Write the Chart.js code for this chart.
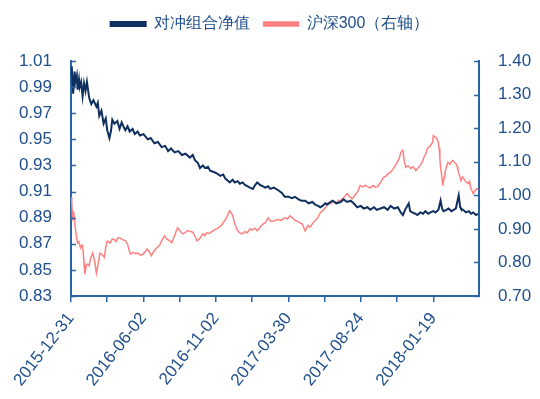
<!DOCTYPE html>
<html>
<head>
    <meta charset="utf-8">
    <title>对冲组合净值 vs 沪深300</title>
    <style>
        html, body { margin: 0; padding: 0; background: #ffffff; }
        #wrap { width: 540px; height: 399px; }
    </style>
</head>
<body>
    <div id="wrap"><canvas id="myChart" width="540" height="399"></canvas></div>
    <script src="https://cdn.jsdelivr.net/npm/chart.js"></script>
    <script>
        // x ticks: one date label every 100 trading days
        const dateLabels = ['2015-12-31', '2016-06-02', '2016-11-02', '2017-03-30', '2017-08-24', '2018-01-19'];
        const leftTicks = [0.83, 0.85, 0.87, 0.89, 0.91, 0.93, 0.95, 0.97, 0.99, 1.01];
        const rightTicks = [0.70, 0.80, 0.90, 1.00, 1.10, 1.20, 1.30, 1.40];

        // 对冲组合净值 (left axis), trading day index -> value
        const hedgeDays = [0,1,2,3,5,6,8,9,11,12,14,16,18,20,22,25,28,31,35,37,39,42,45,48,50,53,55,57,60,64,67,70,73,75,78,81,85,88,92,95,100,106,110,115,120,125,130,134,138,143,148,153,158,164,168,171,175,178,182,185,189,192,197,201,206,210,213,217,219,223,226,230,233,237,240,244,247,251,254,257,261,265,268,272,275,280,286,291,295,300,305,309,314,318,323,328,333,337,341,344,347,351,354,358,361,366,372,376,381,386,390,395,400,404,409,413,418,422,427,432,437,441,446,451,455,458,461,466,468,471,475,478,482,486,489,493,496,500,503,507,510,512,514,518,521,525,528,531,535,537,538,541,545,549,552,555,559,562];
        const hedgeValues = [1.000,1.006,0.996,0.985,1.002,0.994,0.999,0.988,0.996,0.990,0.994,0.983,0.993,0.987,0.994,0.982,0.977,0.980,0.975,0.978,0.968,0.972,0.962,0.966,0.957,0.951,0.956,0.965,0.962,0.964,0.958,0.963,0.959,0.957,0.960,0.956,0.958,0.954,0.956,0.953,0.954,0.950,0.951,0.947,0.948,0.944,0.945,0.941,0.943,0.940,0.941,0.938,0.939,0.936,0.938,0.934,0.932,0.928,0.930,0.928,0.929,0.926,0.925,0.924,0.922,0.923,0.920,0.918,0.917,0.919,0.917,0.918,0.916,0.917,0.915,0.914,0.913,0.912,0.915,0.917,0.915,0.914,0.913,0.914,0.912,0.913,0.911,0.909,0.906,0.906,0.905,0.906,0.904,0.903,0.903,0.901,0.902,0.900,0.899,0.898,0.899,0.901,0.900,0.902,0.903,0.901,0.902,0.904,0.902,0.903,0.901,0.898,0.899,0.897,0.898,0.896,0.898,0.896,0.897,0.898,0.896,0.899,0.897,0.898,0.894,0.892,0.896,0.901,0.895,0.894,0.893,0.892,0.894,0.893,0.895,0.893,0.894,0.895,0.894,0.896,0.903,0.897,0.895,0.896,0.897,0.895,0.896,0.897,0.907,0.898,0.897,0.896,0.894,0.895,0.893,0.894,0.892,0.893];

        // 沪深300 (right axis), trading day index -> value
        const hs300Days = [0,1,2,3,4,6,8,9,11,13,15,16,18,19,21,23,25,27,30,33,35,37,40,43,46,48,50,54,57,60,62,65,68,71,75,78,80,82,86,89,92,96,100,103,105,108,111,114,118,122,126,129,132,136,139,143,147,150,154,157,161,165,168,171,174,178,182,185,187,191,195,198,201,205,208,212,215,219,221,223,226,230,233,236,240,243,247,250,254,257,261,265,268,272,276,281,285,290,295,299,302,306,309,313,316,319,321,323,325,327,330,334,337,341,344,348,351,355,358,362,366,369,372,377,381,385,388,392,396,399,403,406,409,413,417,420,423,427,431,435,438,441,445,448,450,453,455,458,460,462,465,469,472,476,479,482,485,487,490,492,495,499,500,503,505,507,508,509,510,512,513,515,516,518,520,523,525,527,529,531,533,534,536,538,540,542,545,548,550,551,553,555,557,560,562];
        const hs300Values = [0.995,0.985,0.925,0.950,0.945,0.900,0.870,0.858,0.862,0.843,0.852,0.850,0.800,0.765,0.790,0.795,0.790,0.812,0.828,0.800,0.768,0.790,0.828,0.822,0.815,0.845,0.864,0.858,0.870,0.868,0.862,0.874,0.872,0.868,0.865,0.855,0.838,0.825,0.830,0.826,0.828,0.822,0.825,0.834,0.840,0.832,0.820,0.832,0.843,0.850,0.868,0.879,0.870,0.865,0.858,0.880,0.903,0.895,0.885,0.888,0.895,0.892,0.890,0.878,0.864,0.872,0.885,0.880,0.888,0.886,0.893,0.897,0.900,0.905,0.912,0.924,0.935,0.954,0.948,0.940,0.915,0.894,0.888,0.885,0.892,0.888,0.900,0.896,0.902,0.894,0.905,0.915,0.918,0.933,0.922,0.924,0.928,0.925,0.933,0.930,0.939,0.932,0.925,0.922,0.918,0.915,0.905,0.894,0.902,0.910,0.905,0.918,0.924,0.935,0.948,0.955,0.963,0.978,0.975,0.982,0.976,0.985,0.984,0.995,1.005,0.995,0.990,1.000,1.012,1.029,1.025,1.030,1.026,1.022,1.029,1.024,1.025,1.038,1.053,1.058,1.065,1.068,1.080,1.090,1.098,1.110,1.128,1.134,1.100,1.083,1.088,1.080,1.085,1.074,1.082,1.089,1.100,1.113,1.125,1.140,1.145,1.158,1.178,1.172,1.170,1.155,1.140,1.110,1.083,1.050,1.029,1.055,1.068,1.085,1.098,1.092,1.100,1.104,1.098,1.095,1.085,1.074,1.060,1.044,1.055,1.050,1.040,1.035,1.042,1.025,1.015,1.005,1.012,1.020,1.018];

        const axisColor = '#2b64a3';
        const textColor = '#1f4f8c';
        const fontFamily = "'Liberation Sans', Arial, sans-serif";

        // short tick marks pointing into the plot for both y axes
        const innerTicks = {
            id: 'innerTicks',
            afterDraw(chart) {
                const c = chart.ctx;
                c.save();
                c.strokeStyle = axisColor;
                c.lineWidth = 1.5;
                const yl = chart.scales.y, yr = chart.scales.y1;
                yl.ticks.forEach(t => {
                    const py = Math.round(yl.getPixelForValue(t.value)) + 0.5;
                    c.beginPath(); c.moveTo(yl.right, py); c.lineTo(yl.right + 5, py); c.stroke();
                });
                yr.ticks.forEach(t => {
                    const py = Math.round(yr.getPixelForValue(t.value)) + 0.5;
                    c.beginPath(); c.moveTo(yr.left, py); c.lineTo(yr.left - 5, py); c.stroke();
                });
                c.restore();
            }
        };

        // extra room under the legend
        const legendGap = {
            id: 'legendGap',
            beforeInit(chart) {
                const fit = chart.legend.fit;
                chart.legend.fit = function () {
                    fit.bind(chart.legend)();
                    this.height += 19;
                };
            }
        };

        const ctx = document.getElementById('myChart').getContext('2d');
        const myChart = new Chart(ctx, {
            type: 'line',
            data: {
                datasets: [{
                    label: '对冲组合净值',
                    data: hedgeDays.map((d, i) => ({ x: d, y: hedgeValues[i] })),
                    borderColor: '#0f2f5f',
                    backgroundColor: '#0f2f5f',
                    borderWidth: 2,
                    pointRadius: 0,
                    tension: 0,
                    yAxisID: 'y'
                }, {
                    label: '沪深300（右轴）',
                    data: hs300Days.map((d, i) => ({ x: d, y: hs300Values[i] })),
                    borderColor: '#ff8080',
                    backgroundColor: '#ff8080',
                    borderWidth: 1.5,
                    pointRadius: 0,
                    tension: 0,
                    yAxisID: 'y1'
                }]
            },
            options: {
                responsive: false,
                animation: false,
                layout: { padding: { top: 2, left: 0, right: 0, bottom: 0 } },
                plugins: {
                    legend: {
                        labels: {
                            boxWidth: 35,
                            boxHeight: 4,
                            padding: 14,
                            color: textColor,
                            font: { family: fontFamily, size: 16 }
                        }
                    },
                    tooltip: { enabled: false }
                },
                scales: {
                    x: {
                        type: 'linear',
                        min: 0,
                        max: 563,
                        afterBuildTicks: s => { s.ticks = s.ticks.filter(t => t.value % 50 === 0); },
                        afterFit: s => { s.height = 103; },
                        grid: { drawOnChartArea: false, color: axisColor, tickLength: 6, lineWidth: 1.5 },
                        border: { color: axisColor, width: 2 },
                        ticks: {
                            stepSize: 50,
                            autoSkip: false,
                            minRotation: 52,
                            maxRotation: 52,
                            padding: 7,
                            color: textColor,
                            font: { family: fontFamily, size: 17 },
                            callback: v => (v % 100 === 0 ? dateLabels[v / 100] : '')
                        }
                    },
                    y: {
                        position: 'left',
                        min: 0.83,
                        max: 1.01,
                        afterBuildTicks: s => { s.ticks = leftTicks.map(v => ({ value: v })); },
                        afterFit: s => { s.width = 71; },
                        grid: { display: true, drawOnChartArea: false, drawTicks: false },
                        border: { color: axisColor, width: 2 },
                        ticks: {
                            padding: 19,
                            color: textColor,
                            font: { family: fontFamily, size: 17 },
                            callback: v => v.toFixed(2)
                        }
                    },
                    y1: {
                        position: 'right',
                        min: 0.7,
                        max: 1.4,
                        afterBuildTicks: s => { s.ticks = rightTicks.map(v => ({ value: v })); },
                        afterFit: s => { s.width = 61; },
                        grid: { display: true, drawOnChartArea: false, drawTicks: false },
                        border: { color: axisColor, width: 2 },
                        ticks: {
                            padding: 19,
                            color: textColor,
                            font: { family: fontFamily, size: 17 },
                            callback: v => v.toFixed(2)
                        }
                    }
                }
            },
            plugins: [innerTicks, legendGap]
        });
    </script>
</body>
</html>
